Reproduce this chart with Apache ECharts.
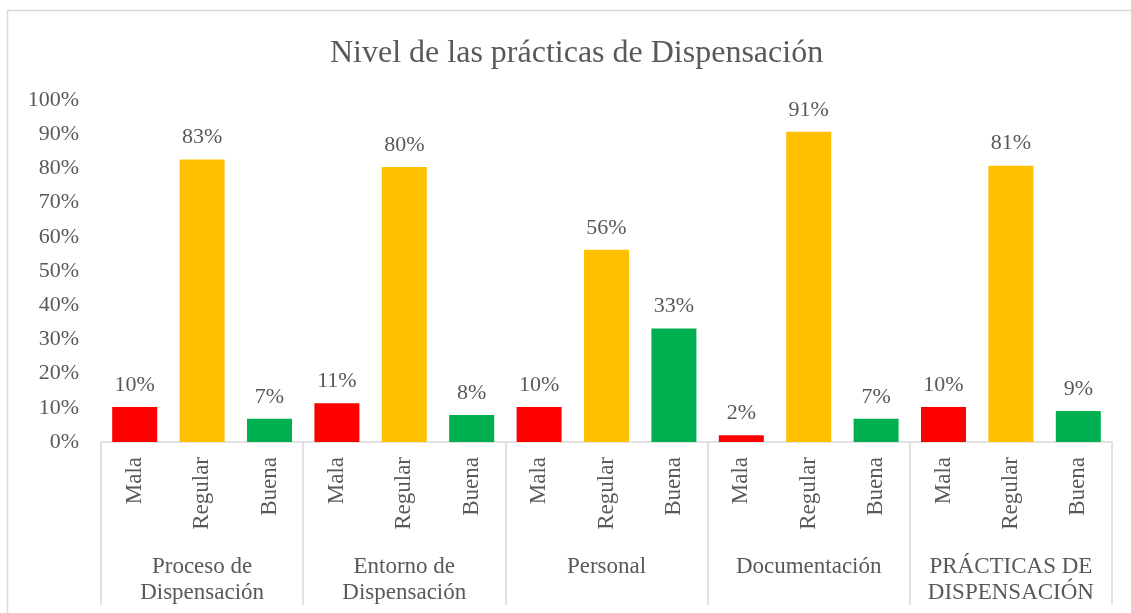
<!DOCTYPE html>
<html>
<head>
<meta charset="utf-8">
<script src="https://cdn.jsdelivr.net/npm/echarts@6/dist/echarts.min.js"></script>
<style>
  html, body { margin: 0; padding: 0; background: #fff; }
  #echarts { width: 1131px; height: 613px; }
</style>
</head>
<body>
<div id="echarts"></div>
<script>
// grupos y niveles
var grupos = ['Proceso de\nDispensación', 'Entorno de\nDispensación', 'Personal', 'Documentación', 'PRÁCTICAS DE\nDISPENSACIÓN'];
var niveles = ['Mala', 'Regular', 'Buena'];
var colores = ['#FF0000', '#FFC000', '#00B050'];

// valores (%), por grupo
var proceso = [10.2, 82.6, 6.8];
var entorno = [11.3, 80.4, 7.9];
var personal = [10.2, 56.2, 33.2];
var documentacion = [2.0, 90.7, 6.8];
var practicas = [10.2, 80.8, 9.1];

var tickY = ['0%', '10%', '20%', '30%', '40%', '50%', '60%', '70%', '80%', '90%', '100%'];

var valores = [proceso, entorno, personal, documentacion, practicas];
var cats = [], datos = [];
valores.forEach(function (g) {
    g.forEach(function (v, i) {
        cats.push(niveles[i]);
        datos.push({ value: v, itemStyle: { color: colores[i] } });
    });
});

var fuente = '"Liberation Serif", "Times New Roman", serif';
var gris = '#595959';

var myChart = echarts.init(document.getElementById('echarts'));
var option = {
    textStyle: { fontFamily: fuente },
    title: {
        text: 'Nivel de las prácticas de Dispensación',
        left: 325,
        top: 33,
        textStyle: { fontFamily: fuente, fontSize: 32, fontWeight: 'normal', color: gris }
    },
    graphic: [{
        type: 'rect',
        shape: { x: 7.5, y: 10.5, width: 1140, height: 620 },
        style: { fill: 'none', stroke: '#D9D9D9', lineWidth: 1.5 },
        silent: true
    }],
    grid: { left: 101, right: 19, top: 100, bottom: 171 },
    xAxis: [{
        type: 'category',
        data: cats,
        axisLine: { lineStyle: { color: '#D9D9D9', width: 1.5 } },
        axisTick: { show: false },
        axisLabel: {
            rotate: 90, interval: 0, margin: 15,
            fontFamily: fuente, fontSize: 23, color: gris
        }
    }, {
        type: 'category',
        data: grupos,
        position: 'bottom',
        axisLine: { show: false },
        axisTick: { show: true, length: 163, lineStyle: { color: '#D9D9D9', width: 1.5 } },
        axisLabel: {
            interval: 0, margin: 112,
            fontFamily: fuente, fontSize: 23, lineHeight: 26, color: gris
        }
    }],
    yAxis: {
        type: 'value',
        min: 0, max: 100, interval: 10,
        axisLine: { show: false },
        axisTick: { show: false },
        splitLine: { show: false },
        axisLabel: {
            margin: 22,
            fontFamily: fuente, fontSize: 22, color: gris,
            formatter: function (v) { return tickY[Math.round(v / 10)]; }
        }
    },
    series: [{
        type: 'bar',
        xAxisIndex: 0,
        data: datos,
        barWidth: 45,
        label: {
            show: true,
            position: 'top',
            distance: 11,
            fontFamily: fuente, fontSize: 22, color: gris,
            formatter: function (p) { return Math.round(p.value) + '%'; }
        }
    }]
};
myChart.setOption(option);
</script>
</body>
</html>
